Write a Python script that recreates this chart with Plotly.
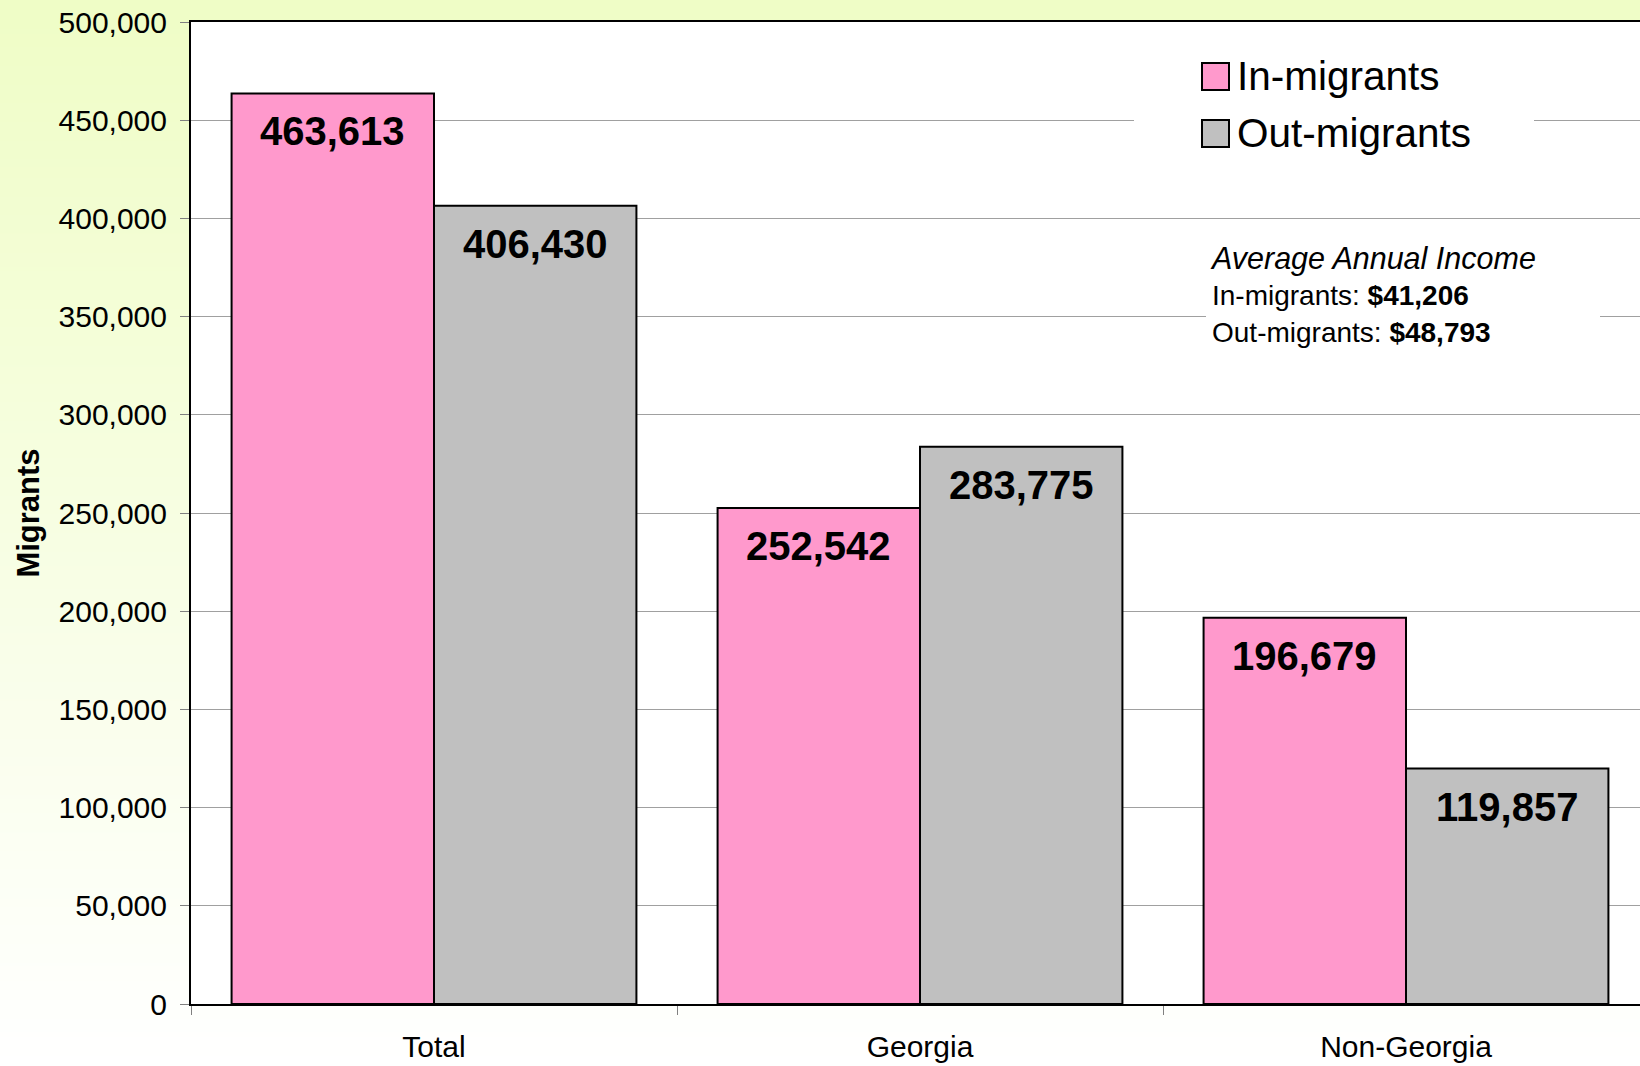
import base64
import struct
import zlib

import plotly.graph_objects as go

# ---------------- data ----------------
categories = ["Total", "Georgia", "Non-Georgia"]
series_names = ["In-migrants", "Out-migrants"]
in_migrants = [463613, 252542, 196679]
out_migrants = [406430, 283775, 119857]
series_values = [in_migrants, out_migrants]
series_colors = ["#FF99CC", "#C0C0C0"]
y_tick_values = [0, 50000, 100000, 150000, 200000, 250000, 300000, 350000, 400000, 450000, 500000]
income_title = "Average Annual Income"
income_labels = ["In-migrants:", "Out-migrants:"]
income_values = ["$41,206", "$48,793"]

# ---------------- geometry ----------------
W, H = 1640, 1066
ML, MT, MB, MR = 191, 22, 62, 0
PW = W - ML - MR
PH = H - MT - MB
BARGAP = 0.167
FONT = "Arial, 'Liberation Sans', Helvetica, sans-serif"


def px_x(px):
    return (px - ML) / PW


def px_y(py):
    return (H - MB - py) / PH


# ---------------- gradient background image ----------------
def gradient_png(h, top, bottom):
    raw = b""
    for i in range(h):
        t = i / (h - 1)
        c = bytes(int(round(top[k] + (bottom[k] - top[k]) * t)) for k in range(3))
        raw += b"\x00" + c + c
    def chunk(typ, data):
        return (struct.pack(">I", len(data)) + typ + data
                + struct.pack(">I", zlib.crc32(typ + data) & 0xFFFFFFFF))
    ihdr = struct.pack(">IIBBBBB", 2, h, 8, 2, 0, 0, 0)
    png = (b"\x89PNG\r\n\x1a\n" + chunk(b"IHDR", ihdr)
           + chunk(b"IDAT", zlib.compress(raw)) + chunk(b"IEND", b""))
    return "data:image/png;base64," + base64.b64encode(png).decode()


bg_src = gradient_png(H, (239, 253, 198), (255, 255, 255))

fig = go.Figure()
for name, vals, col in zip(series_names, series_values, series_colors):
    fig.add_trace(go.Bar(
        x=categories, y=vals, name=name,
        marker=dict(color=col, line=dict(color="black", width=2)),
        showlegend=False,
    ))

# data labels near the top inside each bar
offset = (1 - BARGAP) / 4
annotations = []
for si, vals in enumerate(series_values):
    for ci, v in enumerate(vals):
        annotations.append(dict(
            x=ci + (-offset if si == 0 else offset), y=v,
            xref="x", yref="y", text=f"<b>{v:,}</b>",
            showarrow=False, yanchor="top", xanchor="center", yshift=-14,
            font=dict(size=40, color="black", family=FONT),
        ))

# legend (drawn manually to get large swatches)
shapes = [
    # white plot area over gradient
    dict(type="rect", xref="paper", yref="paper", x0=0, x1=1, y0=0, y1=1,
         fillcolor="white", line=dict(width=0), layer="below"),
    # legend background box
    dict(type="rect", xref="paper", yref="paper", x0=px_x(1134), x1=px_x(1534),
         y0=px_y(165), y1=px_y(45), fillcolor="white", line=dict(width=0), layer="above"),
    # income box background
    dict(type="rect", xref="paper", yref="paper", x0=px_x(1206), x1=px_x(1600),
         y0=px_y(345), y1=px_y(230), fillcolor="white", line=dict(width=0), layer="above"),
]
leg_rows = [(63, 90), (120, 147)]
for (y0, y1), name, col in zip(leg_rows, series_names, series_colors):
    shapes.append(dict(type="rect", xref="paper", yref="paper",
                       x0=px_x(1202), x1=px_x(1229), y0=px_y(y1), y1=px_y(y0),
                       fillcolor=col, line=dict(color="black", width=2), layer="above"))
    annotations.append(dict(x=px_x(1235), y=px_y((y0 + y1) / 2 - 1), xref="paper", yref="paper",
                            text=name, showarrow=False, xanchor="left", yanchor="middle",
                            font=dict(size=40.5, color="black", family=FONT)))

income_text = (f"<i><span style='font-size:30.5px'>{income_title}</span></i><br>"
               + "<br>".join(f"{l} <b>{v}</b>" for l, v in zip(income_labels, income_values)))
annotations.append(dict(x=px_x(1208), y=px_y(239), xref="paper", yref="paper",
                        text=income_text, showarrow=False, xanchor="left", yanchor="top",
                        align="left", font=dict(size=28, color="black", family=FONT)))

fig.update_layout(
    width=W, height=H,
    margin=dict(l=ML, r=MR, t=MT, b=MB, pad=0),
    paper_bgcolor="white", plot_bgcolor="white",
    barmode="group", bargap=BARGAP, bargroupgap=0,
    font=dict(family=FONT, color="black"),
    images=[dict(source=bg_src, xref="paper", yref="paper",
                 x=-ML / PW, y=1 + MT / PH, sizex=W / PW, sizey=H / PH,
                 sizing="stretch", xanchor="left", yanchor="top", layer="below")],
    shapes=shapes,
    annotations=annotations,
    showlegend=False,
)
fig.update_xaxes(
    type="category", range=[-0.5, 2.5 - 9 / 486], tickson="boundaries",
    ticks="outside", ticklen=9, tickcolor="#808080", tickwidth=1,
    showline=True, linecolor="black", linewidth=2, mirror=True,
    showgrid=False, ticklabelstandoff=15,
    tickfont=dict(size=30, color="black", family=FONT),
)
fig.update_yaxes(
    range=[0, 500000], tickvals=y_tick_values, tickformat=",d",
    ticks="outside", ticklen=9, tickcolor="#808080", tickwidth=1,
    showline=True, linecolor="black", linewidth=2,
    showgrid=True, gridcolor="#A0A0A0", gridwidth=1, zeroline=False,
    ticklabelstandoff=7,
    tickfont=dict(size=30, color="black", family=FONT),
    title=dict(text="<b>Migrants</b>", standoff=10,
               font=dict(size=31, color="black", family=FONT)),
)

fig.write_html(
    "out.html",
    config={"displayModeBar": False},
    post_script="document.body.style.margin='0px';document.body.style.overflow='hidden';",
)
